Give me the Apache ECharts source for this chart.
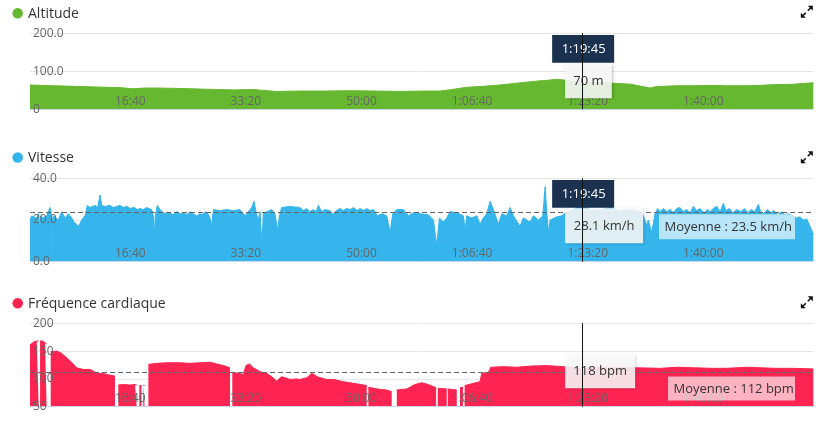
<!DOCTYPE html>
<html><head><meta charset="utf-8">
<script src="https://cdn.jsdelivr.net/npm/echarts@6/dist/echarts.min.js"></script>
<style>html,body{margin:0;padding:0;background:#fff}#c{width:826px;height:425px}</style>
</head><body><div id="c"></div>
<script>
// ---------- data ----------
const panelTitles = ['Altitude', 'Vitesse', 'Fréquence cardiaque'];

const altTimes = [0,100,200,320,432,550,650,780,894,1000,1100,1269,1400,1500,1640,1759,1932,2050,2134,2336,2550,2768,3000,3201,3400,3547,3650,3777,3900,4066,4250,4412,4470,4556,4650,4785,4900,5017,5200,5363,5421,5600,5738,5900,6027,6200,6315,6450,6603,6776];
const altValues = [64,63,62,61,60,59,58,57,54,56,56,55,54,53,52,51,52,49,47,48,48,49,48,47,48,48,52,58,60,64,70,75,76,79,76,70,71,69,66,56,60,62,62,63,62,62,63,65,66,70];

const speedTimes = [
  0,14,29,58,75,81,90,115,144,173,
  182,186,191,196,202,245,274,303,332,360,
  380,404,421,447,476,490,496,519,562,585,
  606,620,650,692,720,750,779,810,840,865,
  900,930,952,980,1009,1030,1052,1067,1076,1084,
  1101,1125,1153,1180,1211,1240,1269,1300,1326,1355,
  1384,1410,1442,1471,1490,1514,1540,1557,1571,1586,
  1644,1701,1759,1817,1860,1889,1918,1938,1955,1975,
  1990,2007,2018,2047,2091,2119,2143,2157,2177,2249,
  2336,2365,2394,2420,2451,2475,2495,2523,2550,2596,
  2624,2650,2682,2710,2740,2769,2800,2830,2855,2885,
  2913,2940,2971,3005,3043,3086,3115,3138,3173,3230,
  3273,3317,3374,3446,3490,3518,3542,3576,3605,3634,
  3692,3749,3764,3778,3821,3865,3893,3922,3951,3980,
  4009,4052,4081,4124,4153,4182,4239,4268,4326,4355,
  4398,4436,4456,4470,4485,4499,4557,4600,4643,4700,
  4785,4850,4950,5017,5100,5200,5280,5306,5334,5349,
  5378,5407,5430,5450,5480,5510,5537,5565,5595,5623,
  5650,5680,5710,5739,5765,5796,5830,5860,5883,5910,
  5940,5970,5998,6020,6050,6080,6114,6150,6180,6210,
  6240,6270,6301,6320,6344,6380,6410,6431,6470,6500,
  6530,6560,6604,6630,6661,6690,6719,6740,6754,6771,
  6776];
const speedValues = [
  20,22,22.5,21,23,16,22,21,22,26,
  24,20,0,21,22,20,24,21,23,21,
  19,18,17,20,22,22,27,26,27,26,
  32,27,26.5,27,26,26.5,27,26,26.5,25.5,
  26,25,25.5,25,26,25.5,25,22,13,22,
  27,25,23.5,23,23.5,22.5,24,23,23.5,22.5,
  24,23,22,23,22.5,24,23,21,17,25,
  24.5,25,24.5,25,22,24,26,29,24,20,
  24,8,23,24,25,23,15,22,26,26.5,
  26,24.5,25.5,24,25,24,27,24,25,24.5,
  22.5,24.5,25.5,24.5,25.5,25,26,24.5,25.5,24.5,
  25.5,24.5,25,22,23,22,14,23,25,25,
  22,23.5,23,22.5,20,8,21,19,21,24,
  23.5,22,15,22,21,22,18,21,23,29,
  25,18,23,22,26,22,17,21,19,22,
  20,22,36,24,14,20,21.5,22,24,25,
  28.1,24.5,25,26,24.5,25,24,22,17.5,20,
  14,23,25.5,24,25.5,24,25,23.5,25.5,26,
  24,25,23.5,26.5,24.5,25.5,23.5,25,24,25.5,
  26.5,24,28,24.5,25.5,23.5,25,24,25.5,23.5,
  25,24,27.5,24,23,25,23.5,24.5,22.5,24,
  22.5,23,22,21,21.5,20,20.5,18,16,14,
  13];

const hrTimes = [0,29,58,75,78,87,110,130,144,160,179,231,274,317,360,404,461,519,548,577,634,663,735,745,764,807,865,908,923,930,946,964,970,980,992,1005,1024,1096,1182,1298,1384,1471,1557,1615,1672,1730,1740,1750,1802,1845,1869,1898,1932,1990,2047,2091,2134,2177,2206,2249,2307,2336,2394,2437,2495,2566,2624,2711,2798,2913,2920,2927,3028,3086,3129,3135,3173,3259,3331,3389,3446,3513,3520,3527,3605,3610,3614,3692,3705,3720,3745,3752,3760,3836,3893,3908,3966,3986,4095,4211,4326,4470,4614,4785,4900,5000,5248,5450,5600,5739,5900,6027,6200,6315,6450,6603,6776];
const hrValues = [161,166,168,168,null,168,168,165,163,null,149,150,146,138,130,120,117,117,114,110,110,108,105,null,89,90,89,90,89,null,88,88,null,88,88,null,126,128,129,129,128,129,130,127,124,120,null,112,110,108,124,127,120,113,110,104,96,104,102,99,100,99,102,110,103,99,99,95,92,88,null,85,81,80,77,null,80,82,90,93,90,84,null,83,82,null,82,80,null,84,85,null,88,92,95,110,112,121,122,121,123,124,122,118,121,120,120,119,121,120,119,119,121,120,119,119,118];

const cursorTime = 4785;           // 1:19:45
const cursorTexts = ['70 m', '28.1 km/h', '118 bpm'];
const speedAvg = 23.5;
const hrAvg = 112;
const avgTexts = ['Moyenne : 23.5 km/h', 'Moyenne : 112 bpm'];
const xMax = 6776;
const xTickStep = 1000;
const yRanges = [[0, 200, 100], [0, 40, 20], [50, 200, 50]];

// ---------- layout / style ----------
const FONT = "'Open Sans', sans-serif";
const colors = ['#65b830', '#35b5ec', '#fe2451'];
const gridLeft = 30, gridWidth = 783.3;
const grids = [{top: 33.3, height: 76}, {top: 178.3, height: 83.4}, {top: 323.3, height: 83.4}];
const titleY = [13.3, 157.5, 303.3];
const iconDy = [0, 145.5, 290.5];

function fmtTime(t) {
  const h = Math.floor(t / 3600), m = Math.floor((t % 3600) / 60), s = Math.round(t % 60);
  const mm = String(m).padStart(2, '0'), ss = String(s).padStart(2, '0');
  return h > 0 ? h + ':' + mm + ':' + ss : mm + ':' + ss;
}
const yFormatters = [
  v => v === 0 ? '0' : v.toFixed(1),
  v => v.toFixed(1),
  v => String(v)
];

const pairs = (ts, vs) => ts.map((t, i) => [t, vs[i]]);
const seriesData = [pairs(altTimes, altValues), pairs(speedTimes, speedValues), pairs(hrTimes, hrValues)];

const chart = echarts.init(document.getElementById('c'), null, {renderer: 'canvas'});

const option = {
  animation: false,
  textStyle: {fontFamily: FONT},
  grid: grids.map(g => ({left: gridLeft, width: gridWidth, top: g.top, height: g.height})),
  xAxis: grids.map((g, i) => ({
    type: 'value', gridIndex: i, min: 0, max: xMax, interval: xTickStep, z: 5,
    axisLine: {show: true, lineStyle: {color: '#ccd6eb', width: 1}},
    axisTick: {show: false},
    splitLine: {show: false},
    axisLabel: {
      inside: true, align: 'right', margin: 2, color: '#666', fontSize: 12, fontFamily: FONT,
      showMinLabel: false, showMaxLabel: false, formatter: v => fmtTime(v)
    }
  })),
  yAxis: [
    ...yRanges.map((r, i) => ({
      type: 'value', gridIndex: i, min: r[0], max: r[1], interval: r[2], position: 'right', z: 0,
      axisLine: {show: false}, axisTick: {show: false}, axisLabel: {show: false},
      splitLine: {show: true, lineStyle: {color: '#e6e6e6', width: 1}}
    })),
    ...yRanges.map((r, i) => ({
      type: 'value', gridIndex: i, min: r[0], max: r[1], interval: r[2], position: 'left', z: 5,
      axisLine: {show: false}, axisTick: {show: false}, splitLine: {show: false},
      axisLabel: {
        inside: true, margin: 3, color: '#666', fontSize: 12, fontFamily: FONT,
        verticalAlign: 'middle', padding: [0, 0, 3, 0], formatter: yFormatters[i]
      }
    }))
  ],
  series: seriesData.map((d, i) => {
    const s = {
      type: 'line', xAxisIndex: i, yAxisIndex: i, data: d,
      showSymbol: false, symbol: 'none', silent: true, connectNulls: false,
      lineStyle: {color: colors[i], width: 1},
      itemStyle: {color: colors[i]},
      areaStyle: {color: colors[i], opacity: 1},
      z: 2
    };
    if (i > 0) {
      s.markLine = {
        silent: true, symbol: 'none', animation: false,
        lineStyle: {color: '#666', type: [5, 3], width: 1},
        label: {show: false},
        data: [{yAxis: i === 1 ? speedAvg : hrAvg}]
      };
    }
    return s;
  })
};
chart.setOption(option);

// ---------- tooltip-like overlays (positioned through the axes) ----------
const cx = chart.convertToPixel({xAxisIndex: 0}, cursorTime);
const plotRight = chart.convertToPixel({xAxisIndex: 0}, xMax);
const lineX = Math.round(cx) - 0.5;
const g = [];

for (let i = 0; i < 3; i++) {
  const ty = titleY[i];
  g.push({type: 'circle', shape: {cx: 17.7, cy: ty, r: 5.3}, style: {fill: colors[i]}, z: 10});
  g.push({type: 'text', x: 28, y: ty + 0.5,
    style: {text: panelTitles[i], fill: '#333', font: '14px ' + FONT, verticalAlign: 'middle', align: 'left'}, z: 10});
  const dy = iconDy[i];
  g.push({type: 'polygon', y: dy, shape: {points: [[812.8, 5.8], [812.8, 10.8], [807.8, 5.8]]}, style: {fill: '#111'}, z: 10});
  g.push({type: 'line', y: dy, shape: {x1: 810.8, y1: 7.8, x2: 807.8, y2: 10.8}, style: {stroke: '#111', lineWidth: 1.6}, z: 10});
  g.push({type: 'polygon', y: dy, shape: {points: [[800.8, 17.8], [800.8, 12.8], [805.8, 17.8]]}, style: {fill: '#111'}, z: 10});
  g.push({type: 'line', y: dy, shape: {x1: 802.8, y1: 15.8, x2: 805.8, y2: 12.8}, style: {stroke: '#111', lineWidth: 1.6}, z: 10});
}

[0, 1].forEach(i => {
  const top = grids[i].top + 1.7;
  g.push({type: 'rect', shape: {x: cx - 31, y: top, width: 62, height: 27.7}, style: {fill: '#1b3150'}, z: 12});
  g.push({type: 'text', x: cx + 0.5, y: top + 14,
    style: {text: fmtTime(cursorTime), fill: '#fff', font: '13px ' + FONT, align: 'center', verticalAlign: 'middle'}, z: 13});
});

const valueBoxW = [46.7, 78, 70];
const valueBoxH = [35, 35, 34];
for (let i = 0; i < 3; i++) {
  const top = grids[i].top + (i === 2 ? 31 : 30);
  g.push({type: 'rect', shape: {x: cx - 18, y: top, width: valueBoxW[i], height: valueBoxH[i]},
    style: {fill: 'rgba(255,255,255,0.86)', shadowBlur: 3, shadowOffsetX: 1, shadowOffsetY: 1, shadowColor: 'rgba(0,0,0,0.3)'}, z: 12});
  g.push({type: 'text', x: cx - 18 + valueBoxW[i] / 2, y: top + valueBoxH[i] / 2,
    style: {text: cursorTexts[i], fill: '#333', font: '13px ' + FONT, align: 'center', verticalAlign: 'middle'}, z: 13});
}

const avgYs = [chart.convertToPixel({yAxisIndex: 1}, speedAvg), chart.convertToPixel({yAxisIndex: 2}, hrAvg)];
const avgBoxW = [136, 127];
const avgBoxOff = [1.5, 4.3];
const avgBoxH = [25, 24];
[0, 1].forEach(k => {
  const right = plotRight - 18.3;
  const top = avgYs[k] + avgBoxOff[k];
  g.push({type: 'rect', shape: {x: right - avgBoxW[k], y: top, width: avgBoxW[k], height: avgBoxH[k]},
    style: {fill: 'rgba(255,255,255,0.65)'}, z: 11});
  g.push({type: 'text', x: right - avgBoxW[k] + 5.5, y: top + avgBoxH[k] / 2 + 0.5,
    style: {text: avgTexts[k], fill: '#333', font: '13px ' + FONT, align: 'left', verticalAlign: 'middle'}, z: 11});
});

for (let i = 0; i < 3; i++) {
  g.push({type: 'line', shape: {x1: lineX, y1: grids[i].top, x2: lineX, y2: grids[i].top + grids[i].height},
    style: {stroke: '#111', lineWidth: 1}, z: 20});
}

chart.setOption({graphic: {elements: g}});
</script>
</body></html>
